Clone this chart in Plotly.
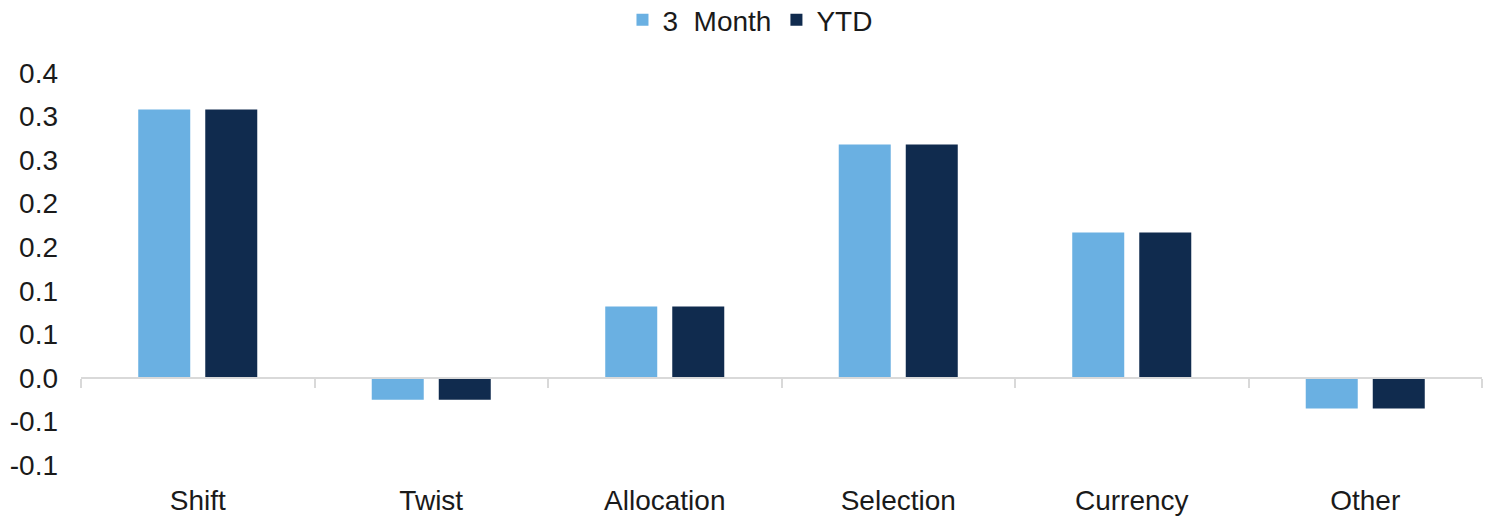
import plotly.graph_objects as go

categories = ["Shift", "Twist", "Allocation", "Selection", "Currency", "Other"]
three_month = [0.308, -0.025, 0.082, 0.268, 0.167, -0.035]
ytd = [0.308, -0.025, 0.082, 0.268, 0.167, -0.035]
series_names = ["3\u00a0 Month", "YTD"]
y_tickvals = [-0.10, -0.05, 0.0, 0.05, 0.10, 0.15, 0.20, 0.25, 0.30, 0.35]
y_ticktext = ["-0.1", "-0.1", "0.0", "0.1", "0.1", "0.2", "0.2", "0.3", "0.3", "0.4"]
y_range = [-0.10, 0.35]

light = "#6AB0E2"
dark = "#102B4E"
font_family = "Liberation Sans, Arial, sans-serif"

fig = go.Figure()
fig.add_trace(go.Bar(x=categories, y=three_month, name=series_names[0],
                     marker=dict(color=light, line=dict(width=0))))
fig.add_trace(go.Bar(x=categories, y=ytd, name=series_names[1],
                     marker=dict(color=dark, line=dict(width=0))))
# helper trace for the axis drawn at zero
fig.add_trace(go.Scatter(x=categories, y=[0] * len(categories), xaxis="x2",
                         mode="markers", marker=dict(opacity=0), showlegend=False,
                         hoverinfo="skip"))

zero_pos = (0 - y_range[0]) / (y_range[1] - y_range[0])

fig.update_layout(
    width=1494, height=520,
    margin=dict(l=81, r=12, t=73, b=55, autoexpand=False),
    paper_bgcolor="white", plot_bgcolor="white",
    barmode="group", bargap=0.426, bargroupgap=0.224,
    font=dict(family=font_family, size=28, color="#1A1A1A"),
    legend=dict(orientation="h", x=0.4775, xanchor="center",
                yref="container", y=1 - 20 / 520, yanchor="middle",
                font=dict(size=28, color="#1A1A1A"), itemsizing="constant",
                traceorder="normal", itemwidth=30),
    xaxis=dict(type="category", categoryorder="array", categoryarray=categories,
               showline=False, ticks="", showgrid=False, zeroline=False,
               automargin=False,
               ticklabelstandoff=16, tickfont=dict(size=28, color="#1A1A1A")),
    xaxis2=dict(type="category", categoryorder="array", categoryarray=categories,
                overlaying="x", matches="x", anchor="free", position=zero_pos,
                side="bottom", showline=True, linecolor="#D9D9D9", linewidth=2,
                ticks="outside", tickson="boundaries", ticklen=9, tickcolor="#D9D9D9",
                tickwidth=2, showticklabels=False, showgrid=False, zeroline=False),
    yaxis=dict(range=y_range, tickvals=y_tickvals, ticktext=y_ticktext,
               showgrid=False, zeroline=False, showline=False, ticks="",
               automargin=False,
               ticklabelstandoff=22, tickfont=dict(size=28, color="#1A1A1A")),
)

fig.write_html("out.html")
